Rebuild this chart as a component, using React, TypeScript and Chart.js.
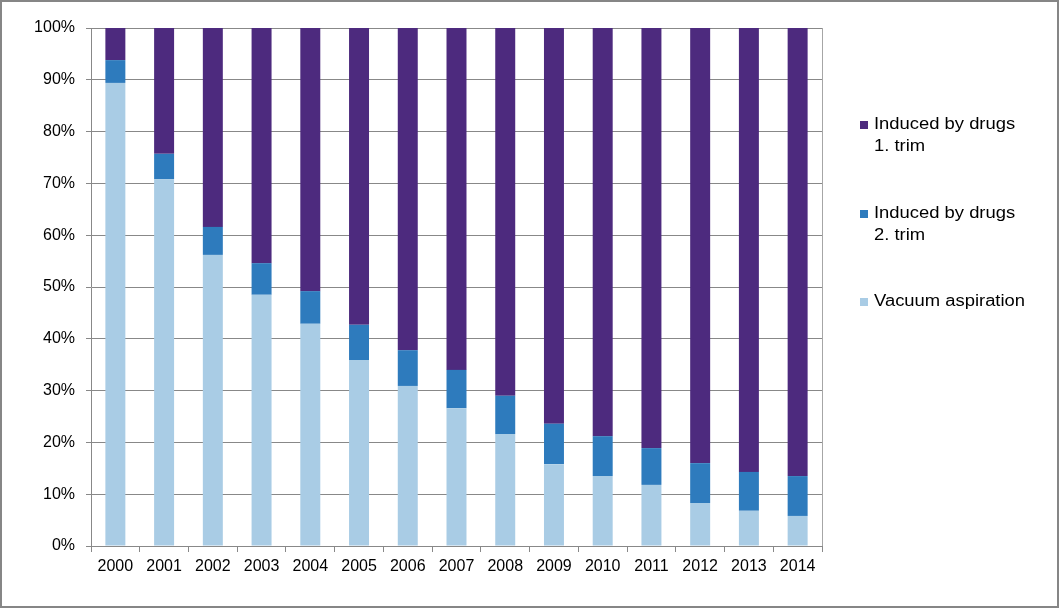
import React, { useEffect, useRef } from "react";
import { Chart, registerables } from "chart.js";

Chart.register(...registerables);

const years = ["2000","2001","2002","2003","2004","2005","2006","2007","2008","2009","2010","2011","2012","2013","2014"];
const vacuum = [89.4, 70.8, 56.2, 48.5, 42.9, 35.9, 30.9, 26.6, 21.6, 15.8, 13.5, 11.8, 8.3, 6.8, 5.8];
const drugs2 = [4.4, 4.9, 5.4, 6.1, 6.3, 6.8, 6.9, 7.4, 7.4, 7.8, 7.7, 7.1, 7.7, 7.5, 7.7];
const drugs1 = [6.2, 24.3, 38.4, 45.4, 50.8, 57.3, 62.2, 66.0, 71.0, 76.4, 78.8, 81.1, 84.0, 85.7, 86.5];
const yTicks = [0, 10, 20, 30, 40, 50, 60, 70, 80, 90, 100];

const FONT = "'Liberation Sans', Arial, sans-serif";

const framePlugin = {
  id: "frame",
  afterDraw(chart: any) {
    const { ctx, chartArea } = chart;
    ctx.save();
    ctx.strokeStyle = "#a6a6a6";
    ctx.lineWidth = 1;
    ctx.beginPath();
    ctx.moveTo(Math.round(chartArea.right) + 0.5, chartArea.top);
    ctx.lineTo(Math.round(chartArea.right) + 0.5, chartArea.bottom);
    ctx.stroke();
    ctx.strokeStyle = "#868686";
    ctx.lineWidth = 2;
    ctx.strokeRect(1, 1, chart.width - 2, chart.height - 2);
    const items = [...chart.data.datasets].reverse();
    const tops = [125, 214, 302];
    ctx.font = `16px ${FONT}`;
    ctx.textBaseline = "middle";
    ctx.textAlign = "left";
    items.forEach((ds: any, i: number) => {
      const y = tops[i];
      ctx.fillStyle = ds.backgroundColor;
      ctx.fillRect(860, y - 4, 8, 8);
      ctx.fillStyle = "#000";
      const lines: string[] = Array.isArray(ds.legendLines) ? ds.legendLines : [ds.label];
      lines.forEach((ln, j) => {
        ctx.save();
        ctx.translate(874, y + j * 22);
        ctx.scale(1.15, 1);
        ctx.fillText(ln, 0, 0);
        ctx.restore();
      });
    });
    ctx.restore();
  },
};

export default function App() {
  const ref = useRef<HTMLCanvasElement>(null);
  useEffect(() => {
    document.body.style.margin = "0";
    const chart = new Chart(ref.current!, {
      type: "bar",
      data: {
        labels: years,
        datasets: [
          { label: "Vacuum aspiration", legendLines: ["Vacuum aspiration"], data: vacuum, backgroundColor: "#a9cce5", barPercentage: 0.41, categoryPercentage: 1 } as any,
          { label: "Induced by drugs 2. trim", legendLines: ["Induced by drugs", "2. trim"], data: drugs2, backgroundColor: "#2e7bbd", barPercentage: 0.41, categoryPercentage: 1 } as any,
          { label: "Induced by drugs 1. trim", legendLines: ["Induced by drugs", "1. trim"], data: drugs1, backgroundColor: "#4d2a7e", barPercentage: 0.41, categoryPercentage: 1 } as any,
        ],
      },
      options: {
        responsive: false,
        animation: false,
        layout: { padding: { top: 28, right: 237, left: 0, bottom: 0 } },
        plugins: { legend: { display: false }, tooltip: { enabled: false } },
        scales: {
          x: {
            stacked: true,
            grid: { display: true, offset: true, drawOnChartArea: false, drawTicks: true, tickLength: 6, color: "#888" },
            border: { display: true, color: "#888", width: 1 },
            ticks: { color: "#000", font: { family: FONT, size: 16 }, padding: 5, maxRotation: 0 },
            afterFit(scale: any) { scale.height = 62; },
          },
          y: {
            stacked: true,
            min: 0,
            max: 100,
            afterBuildTicks(scale: any) { scale.ticks = yTicks.map((v) => ({ value: v })); },
            grid: { color: "#888", tickLength: 5 },
            border: { display: true, color: "#888", width: 1 },
            ticks: { color: "#000", font: { family: FONT, size: 16 }, padding: 11, callback: (v: any) => `${v}%` },
            afterFit(scale: any) { scale.width = 91; },
          },
        },
      },
      plugins: [framePlugin],
    });
    return () => chart.destroy();
  }, []);
  return <canvas ref={ref} width={1059} height={608} style={{ display: "block" }} />;
}
